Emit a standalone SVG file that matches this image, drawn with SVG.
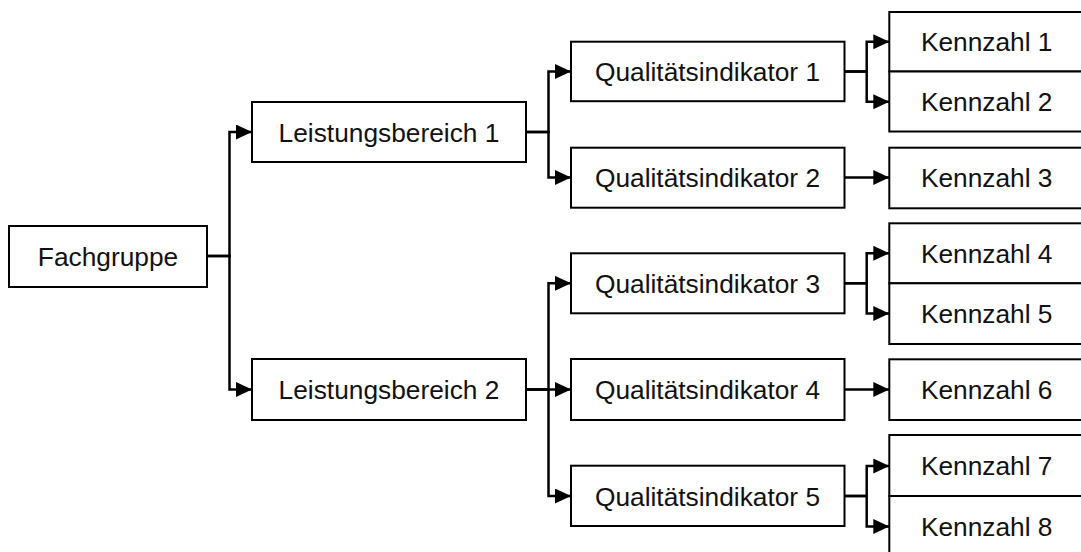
<svg xmlns="http://www.w3.org/2000/svg" width="1081" height="552" viewBox="0 0 1081 552">
<defs>
<style>
.box{fill:#fff;stroke:#000;stroke-width:2}
.lbl{font-family:"Liberation Sans",Arial,sans-serif;font-size:26.3px;fill:#111;text-anchor:middle}
.con{fill:none;stroke:#000;stroke-width:2.5;stroke-linejoin:miter}
</style>
<marker id="arr" markerUnits="userSpaceOnUse" markerWidth="17" markerHeight="16" refX="16" refY="7.5" orient="auto">
<path d="M0,0 L16,7.5 L0,15 z" fill="#000"/>
</marker>
</defs>
<rect width="1081" height="552" fill="#fff"/>
<g id="connectors">
<path class="con" marker-end="url(#arr)" d="M207,256 H229.5 V132 H252"/>
<path class="con" marker-end="url(#arr)" d="M207,256 H229.5 V389.5 H252"/>
<path class="con" marker-end="url(#arr)" d="M526,132 H548.5 V71.5 H571"/>
<path class="con" marker-end="url(#arr)" d="M526,132 H548.5 V177.5 H571"/>
<path class="con" marker-end="url(#arr)" d="M526,389.5 H548.5 V283.3 H571"/>
<path class="con" marker-end="url(#arr)" d="M526,389.5 H571"/>
<path class="con" marker-end="url(#arr)" d="M526,389.5 H548.5 V496 H571"/>
<path class="con" marker-end="url(#arr)" d="M844.5,71.5 H866.7 V41.7 H889.3"/>
<path class="con" marker-end="url(#arr)" d="M844.5,71.5 H866.7 V101.7 H889.3"/>
<path class="con" marker-end="url(#arr)" d="M844.5,177.5 H889.3"/>
<path class="con" marker-end="url(#arr)" d="M844.5,283.3 H866.7 V253.3 H889.3"/>
<path class="con" marker-end="url(#arr)" d="M844.5,283.3 H866.7 V313.6 H889.3"/>
<path class="con" marker-end="url(#arr)" d="M844.5,389.5 H889.3"/>
<path class="con" marker-end="url(#arr)" d="M844.5,496 H866.7 V466 H889.3"/>
<path class="con" marker-end="url(#arr)" d="M844.5,496 H866.7 V526.5 H889.3"/>
</g>
<g id="fachgruppe"><rect class="box" x="9" y="226" width="198" height="61"/><text class="lbl" x="108" y="265.5">Fachgruppe</text></g>
<g id="lb1"><rect class="box" x="252" y="102" width="274" height="60"/><text class="lbl" x="389" y="141.5">Leistungsbereich 1</text></g>
<g id="lb2"><rect class="box" x="252" y="359" width="274" height="61"/><text class="lbl" x="389" y="399">Leistungsbereich 2</text></g>
<g id="qi1"><rect class="box" x="571" y="41.7" width="273.5" height="59.5"/><text class="lbl" x="707.5" y="81">Qualitätsindikator 1</text></g>
<g id="qi2"><rect class="box" x="571" y="147.7" width="273.5" height="60"/><text class="lbl" x="707.5" y="187">Qualitätsindikator 2</text></g>
<g id="qi3"><rect class="box" x="571" y="253.3" width="273.5" height="60"/><text class="lbl" x="707.5" y="292.8">Qualitätsindikator 3</text></g>
<g id="qi4"><rect class="box" x="571" y="359" width="273.5" height="61"/><text class="lbl" x="707.5" y="399">Qualitätsindikator 4</text></g>
<g id="qi5"><rect class="box" x="571" y="465.7" width="273.5" height="60.3"/><text class="lbl" x="707.5" y="505.5">Qualitätsindikator 5</text></g>
<g id="k1"><rect class="box" x="889.3" y="12" width="195" height="59.5"/><text class="lbl" x="986.7" y="51">Kennzahl 1</text></g>
<g id="k2"><rect class="box" x="889.3" y="71.5" width="195" height="60"/><text class="lbl" x="986.7" y="111">Kennzahl 2</text></g>
<g id="k3"><rect class="box" x="889.3" y="147.7" width="195" height="60.6"/><text class="lbl" x="986.7" y="187">Kennzahl 3</text></g>
<g id="k4"><rect class="box" x="889.3" y="223.3" width="195" height="60"/><text class="lbl" x="986.7" y="262.8">Kennzahl 4</text></g>
<g id="k5"><rect class="box" x="889.3" y="283.3" width="195" height="60.7"/><text class="lbl" x="986.7" y="323">Kennzahl 5</text></g>
<g id="k6"><rect class="box" x="889.3" y="359.3" width="195" height="60.7"/><text class="lbl" x="986.7" y="399">Kennzahl 6</text></g>
<g id="k7"><rect class="box" x="889.3" y="435" width="195" height="61"/><text class="lbl" x="986.7" y="475">Kennzahl 7</text></g>
<g id="k8"><rect class="box" x="889.3" y="496" width="195" height="61"/><text class="lbl" x="986.7" y="535.5">Kennzahl 8</text></g>
</svg>
